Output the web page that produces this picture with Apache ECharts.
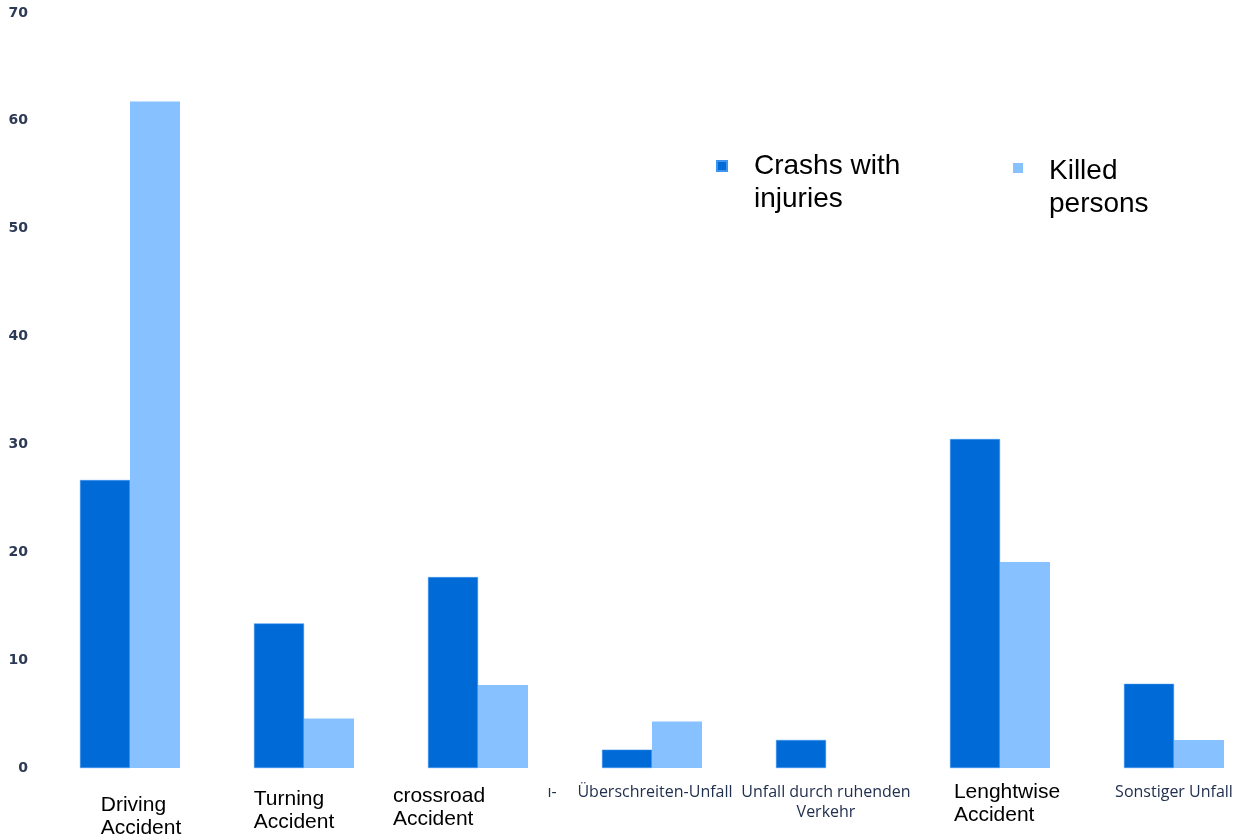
<!DOCTYPE html>
<html>
<head>
<meta charset="utf-8">
<script src="https://cdn.jsdelivr.net/npm/echarts@6/dist/echarts.min.js"></script>
<style>
  html, body { margin: 0; padding: 0; background: #fff; }
  #chart { width: 1237px; height: 836px; }
</style>
</head>
<body>
<div id="chart"></div>
<script>
// data
const categories = [
  'Driving\nAccident',
  'Turning\nAccident',
  'crossroad\nAccident',
  'ı-     Überschreiten-Unfall',
  'Unfall durch ruhenden\nVerkehr',
  'Lenghtwise\nAccident',
  'Sonstiger Unfall'
];
const seriesNames = ['Crashs with\ninjuries', 'Killed\npersons'];
const crashesWithInjuries = [26.7, 13.4, 17.7, 1.7, 2.6, 30.5, 7.8];
const killedPersons = [61.8, 4.6, 7.7, 4.3, 0, 19.1, 2.6];
const yTicks = [0, 10, 20, 30, 40, 50, 60, 70];

const DARK = '#006bd6';
const LIGHT = '#88c1ff';

// label look per category (english labels were pasted over the german ones)
const labelStyle = ['en', 'en', 'en', 'de', 'de', 'en', 'de'];
const labelPad = [
  [15, 0, 0, 22],
  [9, 20, 0, 0],
  [6, 78, 0, 0],
  [3, 24, 0, 0],
  [3, 0, 0, 0],
  [2, 0, 0, 14],
  [3, 0, 0, 0]
];

const chart = echarts.init(document.getElementById('chart'));

// a blank first line pushes the legend text below the icon
function legendText(name) {
  return '{sp|}\n' + name.split('\n').map(l => '{t|' + l + '}').join('\n');
}

const legendRich = (spacer) => ({
  sp: { height: spacer, lineHeight: spacer, fontSize: 1 },
  t: { fontFamily: 'Liberation Sans', fontSize: 28, lineHeight: 33, color: '#000' }
});

const option = {
  backgroundColor: '#fff',
  animation: false,
  grid: {
    left: 43,
    top: 13,
    bottom: 68,
    width: 174 * categories.length,
    containLabel: false,
    outerBoundsMode: 'none'
  },
  legend: [
    {
      data: [seriesNames[0]],
      left: 716,
      top: 116,
      padding: 0,
      icon: 'rect',
      itemWidth: 10,
      itemHeight: 10,
      formatter: name => legendText(name),
      textStyle: { padding: [0, 0, 0, 22], rich: legendRich(34) }
    },
    {
      data: [seriesNames[1]],
      left: 1013,
      top: 115,
      padding: 0,
      icon: 'rect',
      itemWidth: 10,
      itemHeight: 10,
      formatter: name => legendText(name),
      textStyle: { padding: [0, 0, 0, 21], rich: legendRich(40) }
    }
  ],
  xAxis: {
    type: 'category',
    data: categories.map((c, i) => ({
      value: c,
      textStyle: { padding: labelPad[i] }
    })),
    axisLine: { show: false },
    axisTick: { show: false },
    axisLabel: {
      interval: 0,
      margin: 11,
      verticalAlign: 'top',
      formatter: function (value, idx) {
        const st = labelStyle[idx];
        return value.split('\n').map(l => '{' + st + '|' + l + '}').join('\n');
      },
      rich: {
        en: {
          fontFamily: 'Liberation Sans',
          fontSize: 21,
          lineHeight: 23,
          color: '#000',
          align: 'left'
        },
        de: {
          fontFamily: 'Open Sans',
          fontSize: 16,
          lineHeight: 20,
          color: '#22304f',
          align: 'center'
        }
      }
    }
  },
  yAxis: {
    type: 'value',
    min: yTicks[0],
    max: yTicks[yTicks.length - 1],
    interval: yTicks[1] - yTicks[0],
    axisLine: { show: false },
    axisTick: { show: false },
    splitLine: { show: false },
    axisLabel: {
      margin: 15,
      fontFamily: 'DejaVu Sans',
      fontWeight: 'bold',
      fontSize: 14,
      color: '#2d3a55'
    }
  },
  series: [
    {
      name: seriesNames[0],
      type: 'bar',
      data: crashesWithInjuries,
      barWidth: 50,
      barGap: '0%',
      itemStyle: { color: DARK, borderColor: '#3d95f0', borderWidth: 0.5 }
    },
    {
      name: seriesNames[1],
      type: 'bar',
      data: killedPersons,
      barWidth: 50,
      barGap: '0%',
      itemStyle: { color: LIGHT }
    }
  ]
};

chart.setOption(option);
</script>
</body>
</html>
